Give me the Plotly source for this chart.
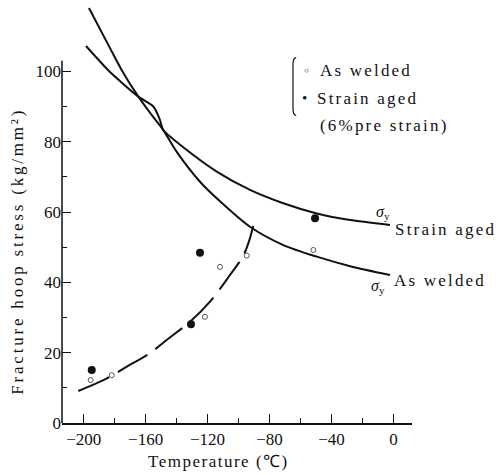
import plotly.graph_objects as go

# ---- data ----
# yield stress curves (sigma_y)
aw_sy_temp = [-196.6, -183.0, -175.5, -164.7, -156.1, -148.6, -139.9, -124.9, -114.1, -92.6, -71.1, -49.5, -27.9, -2.2]
aw_sy_val = [118.0, 106.6, 100.4, 92.8, 87.6, 83.3, 77.1, 68.6, 63.9, 55.8, 50.6, 47.3, 44.6, 42.1]
sa_sy_temp = [-198.5, -183.0, -164.7, -155.0, -151.0, -148.6, -135.7, -114.1, -92.6, -71.1, -49.5, -27.9, -2.2]
sa_sy_val = [107.2, 99.8, 92.8, 90.0, 86.5, 83.3, 78.4, 71.5, 66.3, 62.5, 59.6, 57.7, 56.3]

# fracture stress curve (dashed)
fr_temp = [-203.5, -185.0, -170.0, -158.0, -145.0, -131.0, -118.0, -106.0, -97.0, -93.0, -90.5]
fr_val = [9.1, 12.7, 16.6, 19.6, 24.1, 28.9, 34.7, 41.8, 47.5, 52.0, 56.0]

# test points
aw_temp = [-195.5, -181.9, -121.7, -112.0, -94.7, -51.7]
aw_val = [12.2, 13.6, 30.2, 44.4, 47.6, 49.2]
sa_temp = [-194.8, -130.7, -124.9, -50.6]
sa_val = [15.1, 28.1, 48.4, 58.2]

x_tickvals = [-200, -160, -120, -80, -40, 0]
x_ticktext = ["−200", "−160", "−120", "−80", "−40", "0"]
y_tickvals = [0, 20, 40, 60, 80, 100]

FONT = "'Liberation Serif', 'Times New Roman', Times, serif"
INK = "#111111"

fig = go.Figure()
fig.add_trace(go.Scatter(x=aw_sy_temp, y=aw_sy_val, mode="lines",
                         line=dict(color=INK, width=2, shape="spline", smoothing=0.8),
                         showlegend=False, hoverinfo="skip"))
fig.add_trace(go.Scatter(x=sa_sy_temp, y=sa_sy_val, mode="lines",
                         line=dict(color=INK, width=2, shape="spline", smoothing=0.6),
                         showlegend=False, hoverinfo="skip"))
fig.add_trace(go.Scatter(x=fr_temp, y=fr_val, mode="lines",
                         line=dict(color=INK, width=2, shape="spline", smoothing=0.8,
                                   dash="34px,10px"),
                         showlegend=False, hoverinfo="skip"))
fig.add_trace(go.Scatter(x=aw_temp, y=aw_val, mode="markers", name="As welded",
                         marker=dict(symbol="circle-open", size=5, color="#555555",
                                     line=dict(width=1, color="#555555")),
                         showlegend=False))
fig.add_trace(go.Scatter(x=sa_temp, y=sa_val, mode="markers", name="Strain aged",
                         marker=dict(symbol="circle", size=8, color=INK),
                         showlegend=False))

ls = "letter-spacing:2.2px"
ann = []
def txt(x, y, s, size=17, xref="x", yref="y", xanchor="center", yanchor="middle", angle=0):
    ann.append(dict(x=x, y=y, xref=xref, yref=yref, text=s, showarrow=False,
                    xanchor=xanchor, yanchor=yanchor, textangle=angle,
                    font=dict(family=FONT, size=size, color=INK)))

# curve labels
txt(-6.7, 60.0, "<i>σ</i><sub>y</sub>", size=16)
txt(0.0, 54.9, f"<span style='{ls}'>Strain aged</span>", xanchor="left")
txt(-9.8, 38.8, "<i>σ</i><sub>y</sub>", size=16)
txt(-1.1, 40.4, f"<span style='{ls}'>As welded</span>", xanchor="left")

# legend block
txt(0.699, 0.835, "○", size=8, xref="paper", yref="paper")
txt(0.731, 0.835, f"<span style='{ls}'>As welded</span>", xref="paper", yref="paper", xanchor="left")
txt(0.694, 0.769, "•", size=15, xref="paper", yref="paper")
txt(0.723, 0.769, f"<span style='{ls}'>Strain aged</span>", xref="paper", yref="paper", xanchor="left")
txt(0.731, 0.706, f"<span style='{ls}'>(6%pre strain)</span>", xref="paper", yref="paper", xanchor="left")

# axis titles
txt(0.446, -0.092, f"<span style='letter-spacing:1.5px'>Temperature (℃)</span>", size=17,
    xref="paper", yref="paper")
txt(-0.126, 0.408, f"<span style='letter-spacing:2.8px'>Fracture hoop stress (kg/mm²)</span>", size=17,
    xref="paper", yref="paper", angle=-90)

shapes = [
    # y axis line (drawn only up to ~103)
    dict(type="line", xref="paper", yref="y", x0=0, x1=0, y0=0, y1=103,
         line=dict(color=INK, width=1.5)),
    # legend bracket
    dict(type="path", xref="paper", yref="paper",
         path="M 0.669,0.866 Q 0.660,0.866 0.660,0.850 L 0.660,0.745 Q 0.660,0.729 0.669,0.729",
         line=dict(color=INK, width=1.2)),
]

fig.update_layout(
    template="none",
    width=499, height=475,
    margin=dict(l=62, r=87, t=1, b=52, pad=0),
    paper_bgcolor="white", plot_bgcolor="white",
    font=dict(family=FONT, size=17, color=INK),
    showlegend=False,
    annotations=ann,
    shapes=shapes,
    xaxis=dict(range=[-214, 12], showgrid=False, zeroline=False,
               showline=True, linecolor=INK, linewidth=1.5,
               tickmode="array", tickvals=x_tickvals, ticktext=x_ticktext,
               ticks="inside", ticklen=9, tickwidth=1.3, tickcolor=INK,
               minor=dict(dtick=20, tick0=0, ticks="inside", ticklen=5, tickcolor=INK, tickwidth=1),
               tickfont=dict(family=FONT, size=17, color=INK)),
    yaxis=dict(range=[0, 120], showgrid=False, zeroline=False, showline=False,
               tickmode="array", tickvals=y_tickvals,
               ticks="inside", ticklen=9, tickwidth=1.3, tickcolor=INK,
               minor=dict(tickvals=[10, 30, 50, 70, 90], ticks="inside", ticklen=5,
                          tickcolor=INK, tickwidth=1),
               tickfont=dict(family=FONT, size=17, color=INK)),
)

fig.write_html("out.html")
